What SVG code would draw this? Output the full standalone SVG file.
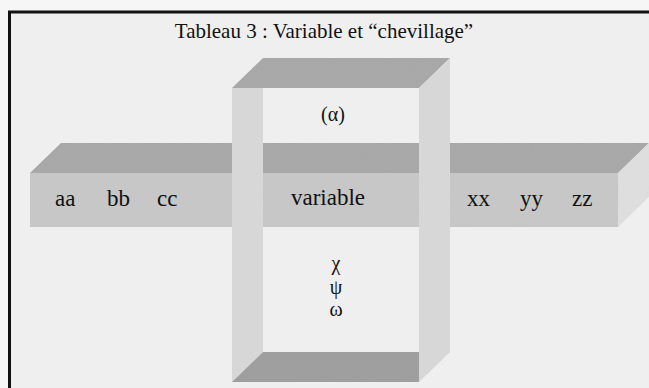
<svg xmlns="http://www.w3.org/2000/svg" width="649" height="388" viewBox="0 0 649 388">
<defs>
<filter id="grain" x="0" y="0" width="100%" height="100%">
<feTurbulence type="fractalNoise" baseFrequency="0.9" numOctaves="2" seed="3" result="n"/>
<feColorMatrix in="n" type="matrix" values="0 0 0 0 0.5  0 0 0 0 0.5  0 0 0 0 0.5  0 0 0 0.12 0" result="g"/>
<feComposite in="g" in2="SourceGraphic" operator="in" result="gc"/>
<feMerge><feMergeNode in="SourceGraphic"/><feMergeNode in="gc"/></feMerge>
</filter>
<style>
.top{fill:#a7a7a7}
.front{fill:#c8c8c8}
.side{fill:#e0e0e0}
.post{fill:#d9d9d9}
.bottom{fill:#9d9d9d}
text{font-family:"Liberation Serif","Times New Roman",serif;fill:#111}
.lbl{font-size:23px}
.gr{font-size:20px;text-anchor:middle}
</style>
</defs>
<rect x="0" y="0" width="649" height="388" fill="#f6f6f6"/>
<rect x="9.5" y="12" width="640" height="376" fill="#efefef"/>
<path d="M9.5,388 V12 H649" fill="none" stroke="#111" stroke-width="3"/>
<text x="324" y="38" font-size="21" text-anchor="middle">Tableau 3 : Variable et “chevillage”</text>
<g id="bar" filter="url(#grain)">
<polygon class="top" points="30,173 61,143 649,143 618,173"/>
<rect class="front" x="30" y="173" width="588" height="54"/>
<polygon class="side" points="618,173 649,143 649,197 618,227"/>
</g>
<g id="ring" filter="url(#grain)">
<polygon class="top" points="232,88 263,58 450,58 419,88"/>
<polygon class="post" points="232,88 263,88 263,352 232,382"/>
<polygon class="post" points="419,88 450,58 450,352 419,382"/>
<polygon class="bottom" points="232,382 263,352 419,352 419,382"/>
</g>
<g id="labels">
<text class="lbl" x="55" y="206">aa</text>
<text class="lbl" x="107" y="206">bb</text>
<text class="lbl" x="157" y="206">cc</text>
<text class="lbl" x="328" y="205" text-anchor="middle">variable</text>
<text class="lbl" x="467" y="206">xx</text>
<text class="lbl" x="520" y="206">yy</text>
<text class="lbl" x="572" y="206">zz</text>
<text class="gr" x="333" y="121">(α)</text>
<text class="gr" x="336" y="270">χ</text>
<text class="gr" x="336" y="294">ψ</text>
<text class="gr" x="336" y="316">ω</text>
</g>
</svg>
